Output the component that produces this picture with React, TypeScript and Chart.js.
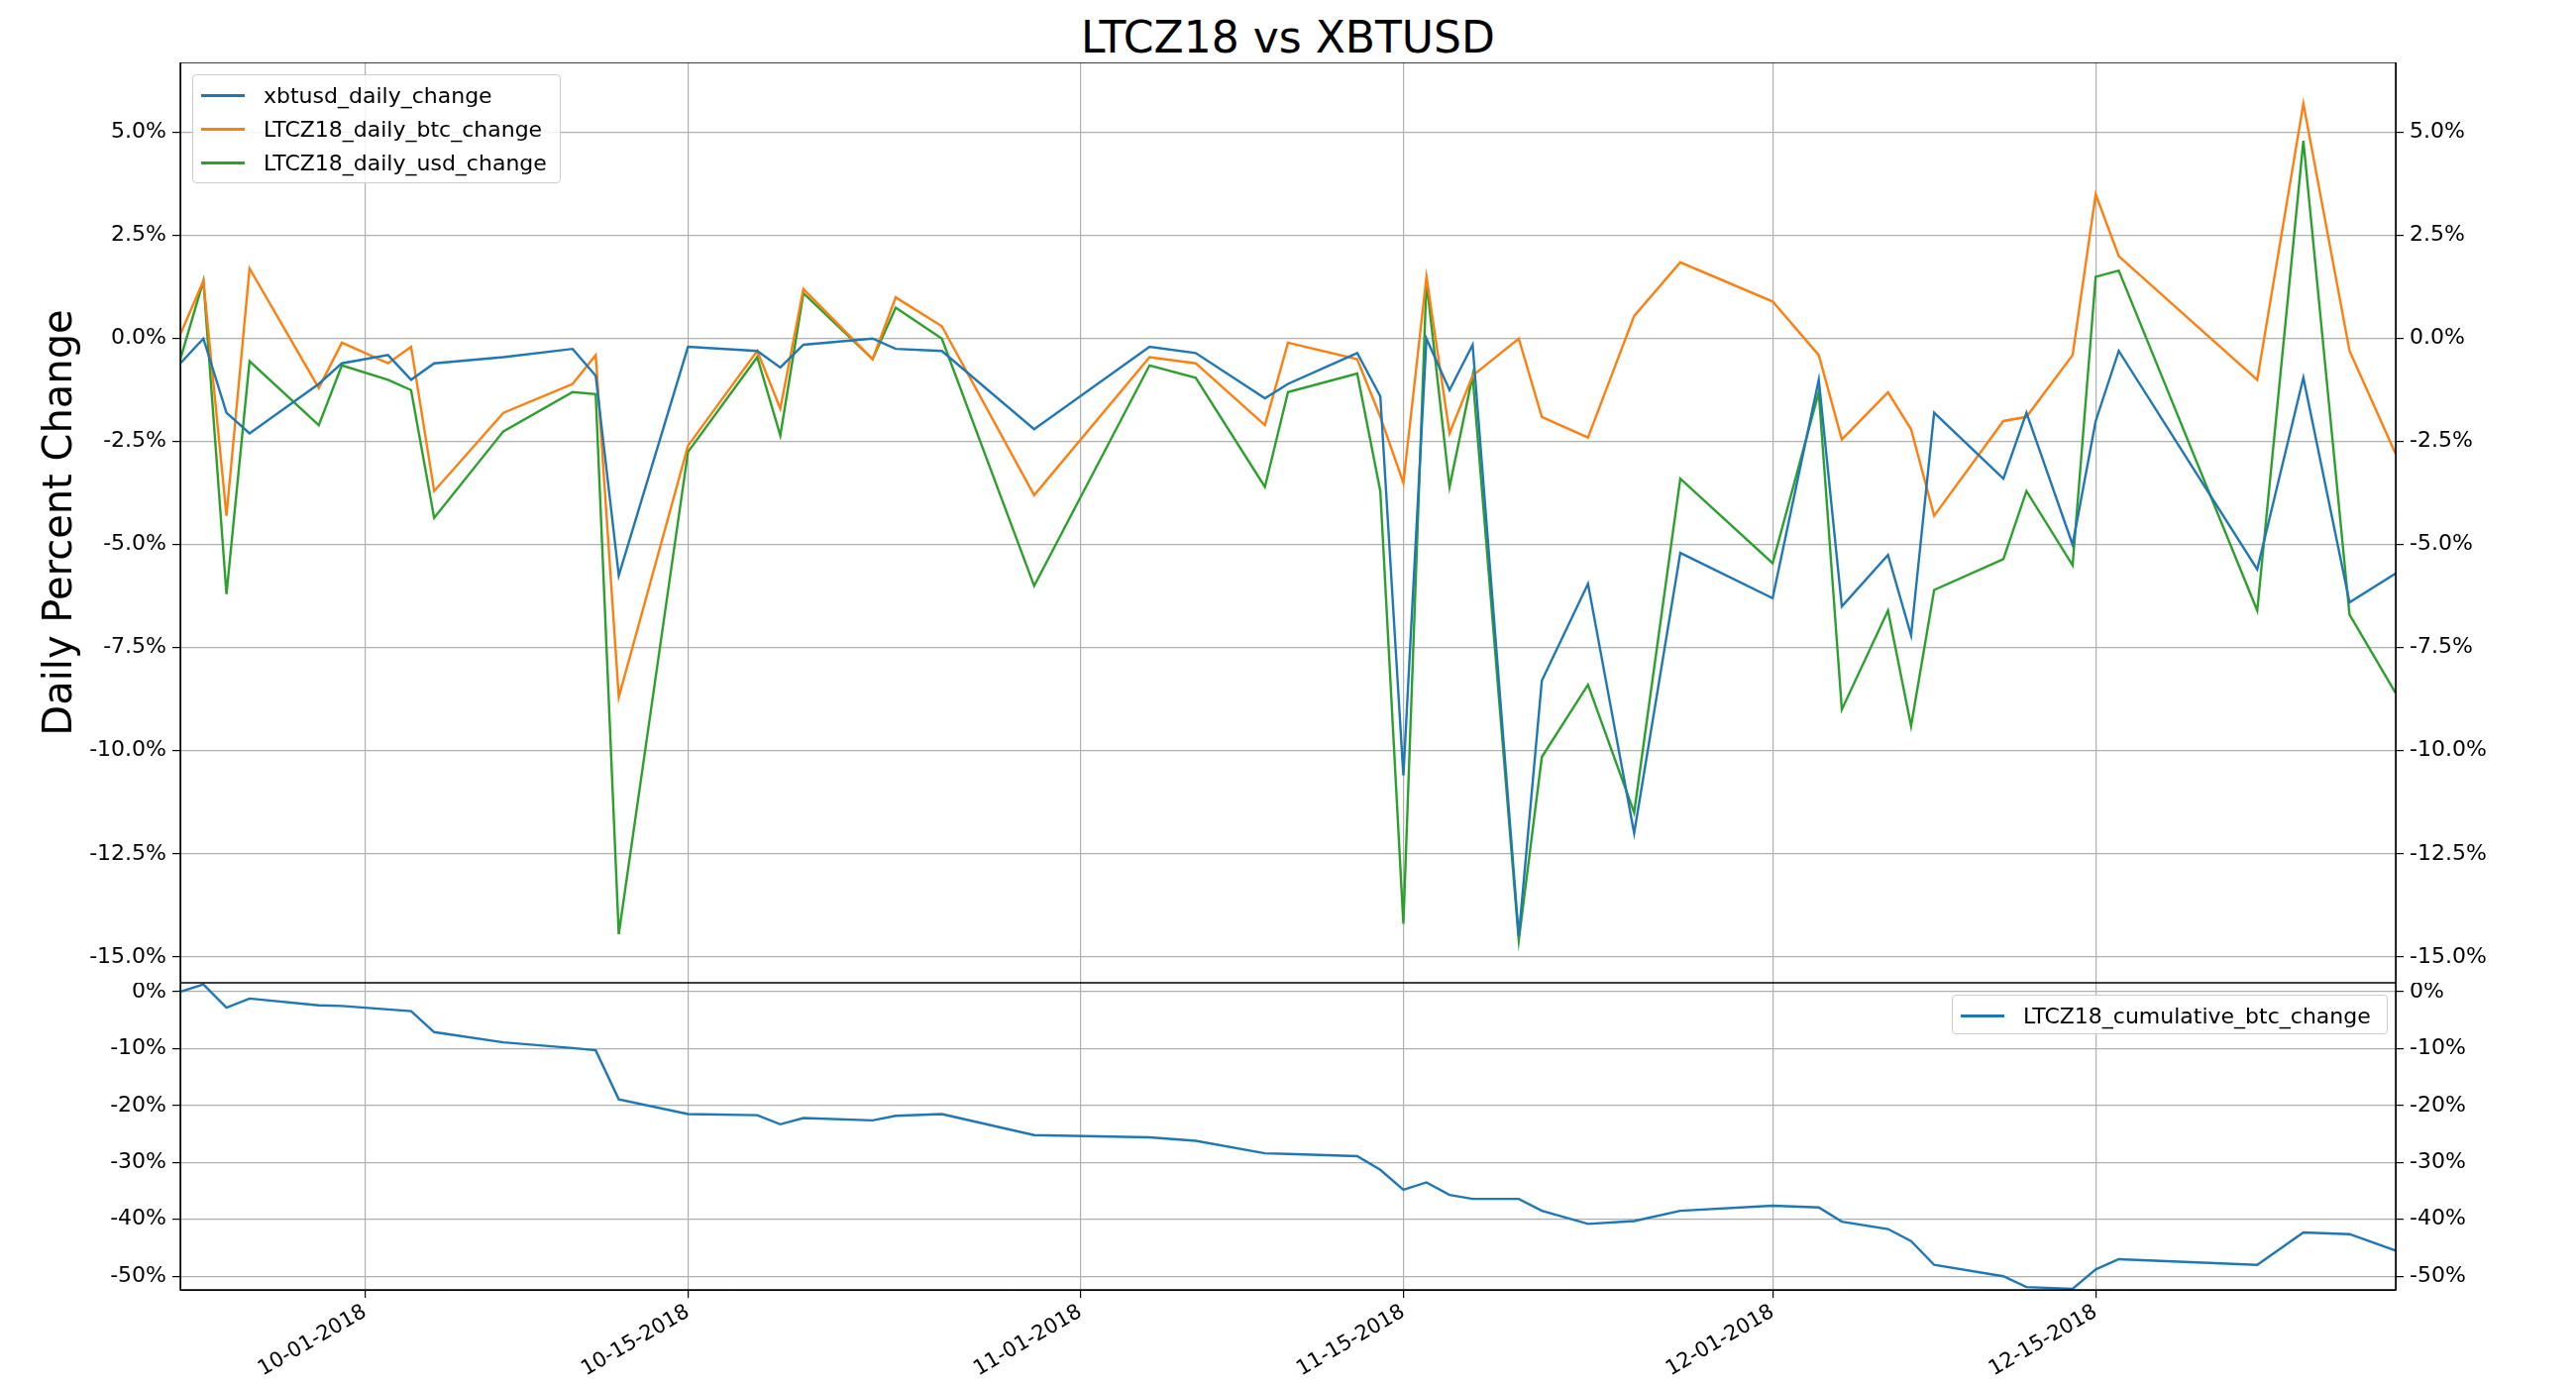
import React, { useEffect, useRef } from "react";
import { Chart, registerables } from "chart.js";
Chart.register(...registerables);

const START = Date.UTC(2018, 8, 23);
const dayIdx: number[] = [0,1,2,3,6,7,9,10,11,14,17,18,19,22,25,26,27,30,31,33,37,42,44,47,48,51,52,53,54,55,56,58,59,61,63,65,69,71,72,74,75,76,79,80,82,83,84,90,92,94,96];
const xbtusd: number[] = [-0.6,0,-1.8,-2.3,-1.1,-0.6,-0.4,-1.0,-0.6,-0.45,-0.25,-0.9,-5.75,-0.2,-0.3,-0.7,-0.15,0,-0.25,-0.3,-2.2,-0.2,-0.35,-1.45,-1.1,-0.35,-1.4,-10.6,0,-1.25,-0.15,-14.5,-8.3,-5.95,-12.0,-5.2,-6.3,-1.0,-6.5,-5.25,-7.2,-1.8,-3.4,-1.8,-5.0,-2.0,-0.3,-5.6,-0.95,-6.4,-5.7];
const btcChange: number[] = [0.1,1.4,-4.3,1.7,-1.2,-0.1,-0.6,-0.2,-3.7,-1.8,-1.1,-0.4,-8.7,-2.6,-0.3,-1.7,1.2,-0.5,1.0,0.3,-3.8,-0.45,-0.6,-2.1,-0.1,-0.5,-1.9,-3.5,1.5,-2.3,-0.9,0,-1.9,-2.4,0.55,1.85,0.9,-0.4,-2.45,-1.3,-2.2,-4.3,-2.0,-1.9,-0.4,3.5,2.0,-1.0,5.7,-0.3,-2.8];
const usdChange: number[] = [-0.5,1.4,-6.2,-0.55,-2.1,-0.65,-1.0,-1.25,-4.35,-2.25,-1.3,-1.35,-14.45,-2.75,-0.45,-2.35,1.1,-0.5,0.75,0,-6.0,-0.65,-0.95,-3.6,-1.3,-0.85,-3.7,-14.2,1.4,-3.6,-0.9,-14.6,-10.15,-8.4,-11.5,-3.4,-5.45,-1.3,-9.0,-6.6,-9.4,-6.1,-5.35,-3.7,-5.5,1.5,1.65,-6.6,4.8,-6.7,-8.6];
const cumBtc: number[] = [0,1.3,-2.8,-1.2,-2.4,-2.5,-3.1,-3.4,-7.1,-8.9,-9.9,-10.3,-18.9,-21.5,-21.7,-23.3,-22.2,-22.6,-21.8,-21.5,-25.2,-25.6,-26.2,-28.4,-28.5,-28.9,-31.3,-34.8,-33.5,-35.7,-36.4,-36.4,-38.5,-40.8,-40.3,-38.5,-37.6,-37.9,-40.4,-41.7,-43.8,-48.0,-50.0,-51.9,-52.2,-48.8,-47.0,-48.0,-42.3,-42.6,-45.5];
const xTicks: number[] = [8, 22, 39, 53, 69, 83];
const topTicks: number[] = [-15, -12.5, -10, -7.5, -5, -2.5, 0, 2.5, 5];
const botTicks: number[] = [-50, -40, -30, -20, -10, 0];

const BLUE = "#1f77b4", ORANGE = "#ff7f0e", GREEN = "#2ca02c";
const FONT = "DejaVu Sans";
const fmtDate = (d: number) => {
  const t = new Date(START + d * 86400000);
  const mm = String(t.getUTCMonth() + 1).padStart(2, "0");
  const dd = String(t.getUTCDate()).padStart(2, "0");
  return `${mm}-${dd}-${t.getUTCFullYear()}`;
};
const pts = (arr: number[]) => arr.map((v, i) => ({ x: dayIdx[i], y: v }));

const frame = {
  id: "frame",
  afterDraw(c: any) {
    const { ctx, chartArea: a } = c;
    ctx.save(); ctx.strokeStyle = "#000"; ctx.lineWidth = 1.5;
    ctx.strokeRect(a.left, a.top, a.right - a.left, a.bottom - a.top);
    ctx.restore();
  },
};

function makeOpts(ticks: number[], min: number, max: number, fmt: (v: number) => string, showX: boolean, yTitle: string | null) {
  const yCommon = (pos: string, w: number) => ({
    type: "linear", position: pos, min, max,
    afterBuildTicks: (ax: any) => { ax.ticks = ticks.map((v) => ({ value: v })); },
    afterFit: (ax: any) => { ax.width = w; ax.paddingTop = 0; ax.paddingBottom = 0; },
    grid: { display: true, drawOnChartArea: pos === "left", color: pos === "left" ? "#b0b0b0" : "#000", lineWidth: 1.2, tickLength: 8, tickColor: "#000" },
    border: { color: "#000" },
    ticks: { color: "#000", padding: 6, font: { family: FONT, size: 22 }, callback: (v: any) => fmt(Number(v)) },
  });
  const y: any = yCommon("left", 182);
  if (yTitle) y.title = { display: true, text: yTitle, color: "#000", font: { family: FONT, size: 40 }, padding: { top: 38, bottom: 0 } };
  const y2: any = yCommon("right", 182);
  return {
    animation: false, responsive: false, maintainAspectRatio: false,
    layout: { padding: 0 },
    plugins: { legend: { display: false }, tooltip: { enabled: false } },
    elements: { point: { radius: 0 }, line: { borderWidth: 2.4, tension: 0 } },
    scales: {
      x: {
        type: "linear", min: 0, max: 96,
        afterBuildTicks: (ax: any) => { ax.ticks = xTicks.map((v) => ({ value: v })); },
        afterFit: (ax: any) => { ax.height = showX ? 98 : 0; ax.paddingLeft = 0; ax.paddingRight = 0; },
        grid: { color: "#b0b0b0", lineWidth: 1.2, tickLength: showX ? 8 : 0, tickColor: "#000" },
        border: { color: "#000" },
        ticks: { display: showX, color: "#000", padding: 2, minRotation: 30, maxRotation: 30, font: { family: FONT, size: 21 }, callback: (v: any) => fmtDate(Number(v)) },
      },
      y, y2,
    },
  };
}

const Legend = ({ items, style }: { items: [string, string][]; style: any }) => (
  <div style={{ position: "absolute", boxSizing: "border-box", background: "rgba(255,255,255,0.85)", border: "1px solid #ccc", borderRadius: 4, padding: "3px 8px", fontFamily: FONT, fontSize: 22, ...style }}>
    {items.map(([t, c]) => (
      <div key={t} style={{ display: "flex", alignItems: "center", height: 34 }}>
        <span style={{ display: "inline-block", width: 44, height: 3, background: c, marginRight: 19 }} />
        {t}
      </div>
    ))}
  </div>
);

export default function App() {
  const topRef = useRef<HTMLCanvasElement>(null);
  const botRef = useRef<HTMLCanvasElement>(null);
  useEffect(() => {
    const top = new Chart(topRef.current as any, {
      type: "line",
      data: { datasets: [
        { label: "xbtusd_daily_change", data: pts(xbtusd), borderColor: BLUE, yAxisID: "y" },
        { label: "LTCZ18_daily_btc_change", data: pts(btcChange), borderColor: ORANGE, yAxisID: "y" },
        { label: "LTCZ18_daily_usd_change", data: pts(usdChange), borderColor: GREEN, yAxisID: "y" },
      ] },
      options: makeOpts(topTicks, -15.63, 6.7, (v) => v.toFixed(1) + "%", false, "Daily Percent Change") as any,
      plugins: [frame],
    });
    const bot = new Chart(botRef.current as any, {
      type: "line",
      data: { datasets: [
        { label: "LTCZ18_cumulative_btc_change", data: pts(cumBtc), borderColor: BLUE, yAxisID: "y" },
      ] },
      options: makeOpts(botTicks, -52.4, 1.57, (v) => v.toFixed(0) + "%", true, null) as any,
      plugins: [frame],
    });
    return () => { top.destroy(); bot.destroy(); };
  }, []);
  return (
    <div style={{ position: "absolute", left: 0, top: 0, width: 2600, height: 1400, background: "#fff" }}>
      <div style={{ position: "absolute", top: 12, left: 182, width: 2236, textAlign: "center", fontFamily: FONT, fontSize: 44 }}>LTCZ18 vs XBTUSD</div>
      <canvas ref={topRef} width={2600} height={929} style={{ position: "absolute", left: 0, top: 63, width: 2600, height: 929 }} />
      <canvas ref={botRef} width={2600} height={408} style={{ position: "absolute", left: 0, top: 992, width: 2600, height: 408 }} />
      <Legend items={[["xbtusd_daily_change", BLUE], ["LTCZ18_daily_btc_change", ORANGE], ["LTCZ18_daily_usd_change", GREEN]]} style={{ left: 194, top: 75, width: 372 }} />
      <Legend items={[["LTCZ18_cumulative_btc_change", BLUE]]} style={{ left: 1970, top: 1004, width: 440, height: 40 }} />
    </div>
  );
}
